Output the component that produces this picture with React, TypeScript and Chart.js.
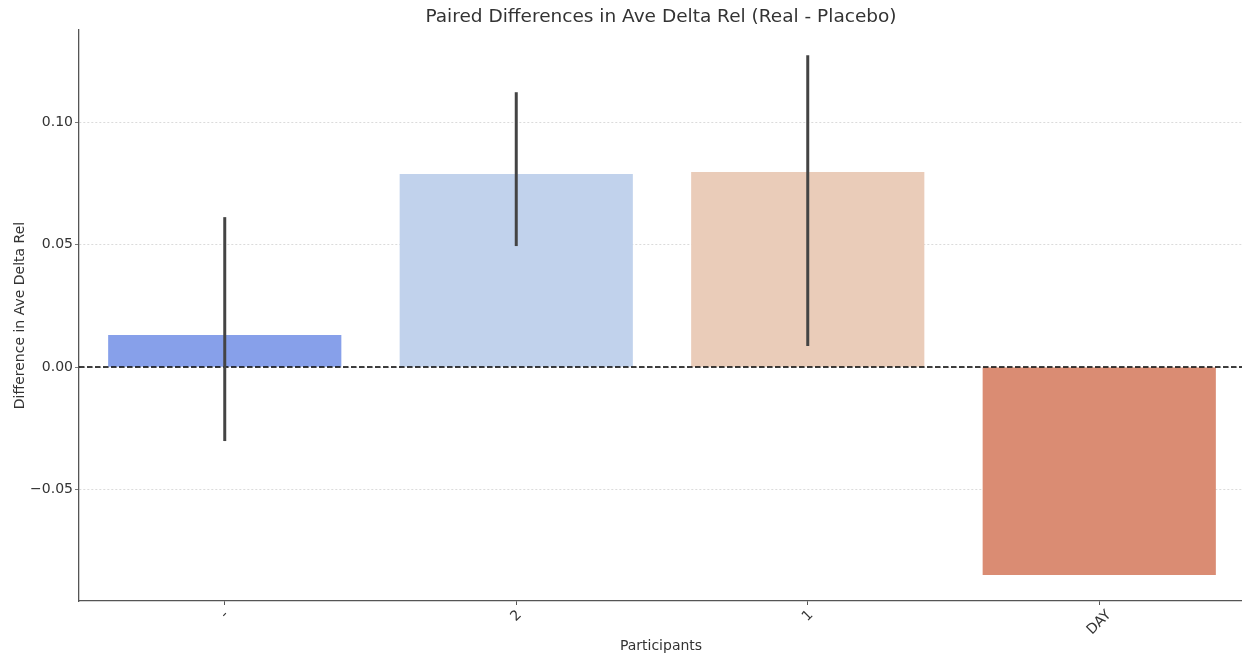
import React, { useEffect, useRef } from "react";
import { Chart, registerables } from "chart.js";

Chart.register(...registerables);

const categories = ["-", "2", "1", "DAY"];
const meanDiff = [0.0131, 0.0788, 0.0796, -0.0849];
const errLow = [-0.0302, 0.0494, 0.0086, null];
const errHigh = [0.0612, 0.1122, 0.1273, null];
const barColors = ["#87a0ea", "#c1d2ec", "#eaccb9", "#da8c73"];
const yTickValues = [-0.05, 0, 0.05, 0.1];
const yTickLabels = ["\u22120.05", "0.00", "0.05", "0.10"];
const titleText = "Paired Differences in Ave Delta Rel (Real - Placebo)";
const xTitle = "Participants";
const yTitle = "Difference in Ave Delta Rel";

const FONT = "'DejaVu Sans', sans-serif";

const overlay = {
  id: "overlay",
  afterDatasetsDraw(chart: any) {
    const { ctx, chartArea, scales } = chart;
    const x = scales.x;
    const y = scales.y;
    ctx.save();
    ctx.strokeStyle = "#000";
    ctx.lineWidth = 1.5;
    ctx.setLineDash([5.5, 2.5]);
    const y0 = y.getPixelForValue(0);
    ctx.beginPath();
    ctx.moveTo(chartArea.left, y0);
    ctx.lineTo(chartArea.right, y0);
    ctx.stroke();
    ctx.setLineDash([]);
    ctx.strokeStyle = "#444";
    ctx.lineWidth = 3;
    for (let i = 0; i < categories.length; i++) {
      const lo = errLow[i];
      const hi = errHigh[i];
      if (lo == null || hi == null) continue;
      const px = x.getPixelForValue(i);
      ctx.beginPath();
      ctx.moveTo(px, y.getPixelForValue(lo));
      ctx.lineTo(px, y.getPixelForValue(hi));
      ctx.stroke();
    }
    ctx.restore();
  },
  afterDraw(chart: any) {
    const { ctx, scales } = chart;
    const x = scales.x;
    const bottom = chart.chartArea.bottom;
    ctx.save();
    ctx.fillStyle = "#333";
    ctx.font = `18.5px ${FONT}`;
    ctx.textAlign = "center";
    ctx.textBaseline = "middle";
    ctx.fillText(titleText, 661, 17);
    ctx.font = `14px ${FONT}`;
    for (let i = 0; i < categories.length; i++) {
      const px = x.getPixelForValue(i);
      const w = ctx.measureText(categories[i]).width;
      const h = 11;
      const bboxH = (w + h) * Math.SQRT1_2;
      const top = bottom + 8;
      ctx.save();
      ctx.translate(px, top + bboxH / 2);
      ctx.rotate(-Math.PI / 4);
      ctx.textAlign = "center";
      ctx.textBaseline = "middle";
      ctx.fillText(categories[i], 0, 0);
      ctx.restore();
    }
    ctx.textAlign = "center";
    ctx.textBaseline = "middle";
    ctx.fillText(xTitle, 661, 646);
    ctx.restore();
  },
};

export default function App() {
  const ref = useRef<HTMLCanvasElement | null>(null);
  useEffect(() => {
    if (!ref.current) return;
    const chart = new Chart(ref.current, {
      type: "bar",
      data: {
        labels: categories,
        datasets: [
          {
            data: meanDiff,
            backgroundColor: barColors,
            borderWidth: 0,
            categoryPercentage: 0.8,
            barPercentage: 1,
          },
        ],
      },
      options: {
        responsive: false,
        animation: false,
        layout: { padding: { left: 0, right: 1, top: 30, bottom: 0 } },
        plugins: {
          legend: { display: false },
          title: { display: false },
          tooltip: { enabled: false },
        },
        scales: {
          x: {
            type: "category",
            offset: true,
            grid: {
              display: true,
              offset: false,
              drawOnChartArea: false,
              drawTicks: true,
              tickLength: 4,
              color: "#555",
              lineWidth: 1,
            },
            border: { display: true, color: "#555", width: 1.3 },
            ticks: { display: false },
            afterFit: (s: any) => {
              s.height = 52;
            },
          },
          y: {
            min: -0.0955,
            max: 0.1376,
            afterBuildTicks: (s: any) => {
              s.ticks = yTickValues.map((v) => ({ value: v }));
            },
            afterFit: (s: any) => {
              s.width = 79;
            },
            grid: {
              color: "rgba(0,0,0,0.18)",
              lineWidth: 0.8,
              drawTicks: true,
              tickLength: 4,
              tickColor: "#555",
              tickBorderDash: [],
            } as any,
            border: { display: true, color: "#555", width: 1.3, dash: [2, 2] } as any,
            ticks: {
              color: "#333",
              font: { family: FONT, size: 14 },
              padding: 2,
              callback: (v: any) => {
                const idx = yTickValues.findIndex((t) => Math.abs(t - Number(v)) < 1e-9);
                return idx >= 0 ? yTickLabels[idx] : "";
              },
            },
            title: {
              display: true,
              text: yTitle,
              color: "#333",
              font: { family: FONT, size: 14 },
              padding: { top: 12, bottom: 4 },
            },
          },
        },
      },
      plugins: [overlay],
    });
    return () => chart.destroy();
  }, []);
  return (
    <div style={{ position: "fixed", left: 0, top: 0, width: 1242, height: 653, overflow: "hidden", background: "#fff" }}>
      <canvas ref={ref} width={1246} height={653} style={{ display: "block" }} />
    </div>
  );
}
